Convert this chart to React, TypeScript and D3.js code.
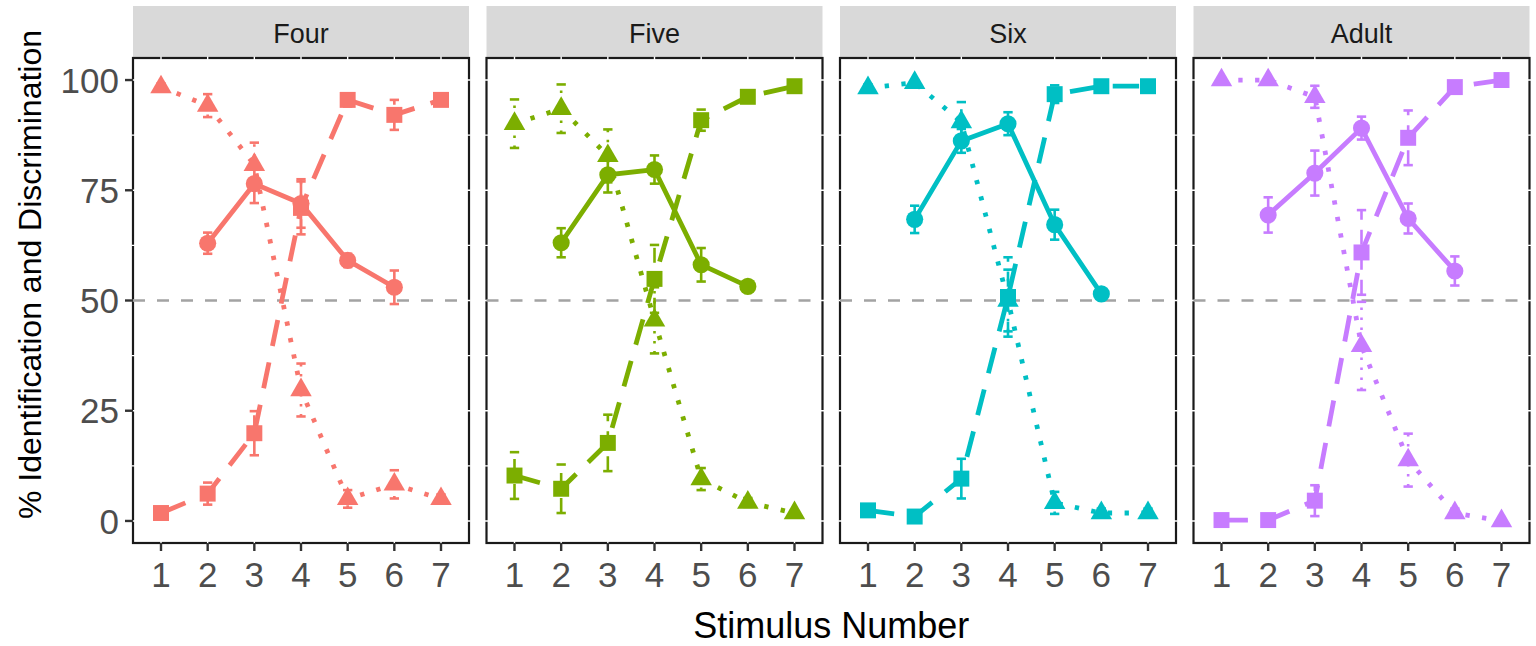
import * as d3 from 'd3'

// facets and stimulus steps
const panels = ['Four', 'Five', 'Six', 'Adult']
const colors = ['#F8766D', '#7CAE00', '#00BFC4', '#C77CFF']
const stimuli = [1, 2, 3, 4, 5, 6, 7]
const discStimuli = [2, 3, 4, 5, 6]
const yTicks = [0, 25, 50, 75, 100]

// discrimination (circles, solid)
const discMean = [
  [63.0, 76.5, 72.0, 59.1, 53.0],
  [63.1, 78.5, 79.7, 58.1, 53.2],
  [68.4, 86.2, 90.1, 67.2, 51.5],
  [69.4, 78.9, 89.1, 68.6, 56.7],
]
const discErr = [
  [2.4, 4.4, 5.5, 1.5, 3.8],
  [3.3, 4.0, 3.2, 3.8, 1.0],
  [3.1, 2.7, 2.6, 3.4, 0.8],
  [4.0, 5.1, 2.6, 3.4, 3.3],
]

// identification rising (squares, long dash)
const riseMean = [
  [1.8, 6.2, 19.9, 71.0, 95.5, 92.1, 95.5],
  [10.3, 7.3, 17.7, 54.9, 90.9, 96.2, 98.6],
  [2.4, 1.0, 9.6, 50.8, 96.8, 98.6, 98.6],
  [0.2, 0.2, 4.6, 60.9, 86.9, 98.4, 100],
]
const riseErr = [
  [0.8, 2.5, 5.0, 6.0, 1.5, 3.4, 1.0],
  [5.3, 5.5, 6.4, 7.7, 2.4, 1.0, 0.8],
  [1.0, 0.5, 4.5, 9.0, 2.0, 0.5, 0.5],
  [0, 0, 3.5, 9.6, 6.2, 0.8, 0.3],
]

// identification falling (triangles, dotted)
const fallMean = [
  [98.4, 94.2, 80.8, 29.7, 5.0, 8.3, 5.0],
  [90.1, 93.5, 82.8, 45.5, 9.5, 4.2, 1.8],
  [98.2, 99.4, 90.5, 50.0, 4.1, 1.8, 1.8],
  [100, 100, 96.2, 39.7, 13.8, 1.8, 0],
]
const fallErr = [
  [0.8, 2.6, 5.0, 6.0, 2.0, 3.2, 1.0],
  [5.5, 5.5, 6.0, 7.5, 2.5, 1.0, 0.5],
  [0.8, 0.5, 4.5, 7.0, 2.5, 1.0, 1.0],
  [0, 0, 2.5, 10, 6.0, 1.0, 0],
]

const font = "'Liberation Sans', Arial, sans-serif"
const W = 1536
const H = 646
const panelLeft = 133
const panelW = 336
const panelGap = 17.5
const top = 58
const bottom = 543
const stripTop = 6
const lw = 4.8

type Series = {
  xs: number[]
  mean: number[]
  err: number[]
  dash: string | undefined
  errDash: string | undefined
  shape: d3.SymbolType
  size: number
}

function Panel({ i }: { i: number }) {
  const left = panelLeft + i * (panelW + panelGap)
  const x = d3.scaleLinear().domain([0.4, 7.6]).range([left, left + panelW])
  const y = d3.scaleLinear().domain([-5, 105]).range([bottom, top])
  const color = colors[i]
  const line = d3.line<[number, number]>().x(d => x(d[0])).y(d => y(d[1]))

  const series: Series[] = [
    { xs: stimuli, mean: riseMean[i], err: riseErr[i], dash: `${lw * 5.5},${lw * 3.5}`, errDash: '15,10', shape: d3.symbolSquare, size: 255 },
    { xs: stimuli, mean: fallMean[i], err: fallErr[i], dash: `${lw * 0.9},${lw * 2.6}`, errDash: '2.5,7.5', shape: d3.symbolTriangle, size: 200 },
    { xs: discStimuli, mean: discMean[i], err: discErr[i], dash: undefined, errDash: undefined, shape: d3.symbolCircle, size: 230 },
  ]

  const minor = d3.range(0, 101, 12.5)

  return (
    <g>
      {/* strip */}
      <rect x={left} y={stripTop} width={panelW} height={top - stripTop - 1} fill="#d9d9d9" />
      <text x={left + panelW / 2} y={43} textAnchor="middle" fontSize={27} fill="#1a1a1a" fontFamily={font}>
        {panels[i]}
      </text>

      <rect x={left} y={top} width={panelW} height={bottom - top} fill="#fff" stroke="#1a1a1a" strokeWidth={2.2} />
      {/* white grid over border */}
      {minor.map(v => (
        <line key={'gy' + v} x1={left - 1.5} x2={left + panelW + 1.5} y1={y(v)} y2={y(v)} stroke="#fff" strokeWidth={1.4} />
      ))}
      {stimuli.map(s => (
        <line key={'gx' + s} x1={x(s)} x2={x(s)} y1={top - 1.5} y2={bottom + 1.5} stroke="#fff" strokeWidth={1.4} />
      ))}

      <line x1={left} x2={left + panelW} y1={y(50)} y2={y(50)} stroke="#a3a3a3" strokeWidth={2.6} strokeDasharray="12,12" />

      {series.map((s, k) => (
        <g key={'s' + k} fill="none" stroke={color}>
          <path d={line(s.xs.map((v, j) => [v, s.mean[j]] as [number, number])) || ''} strokeWidth={lw} strokeDasharray={s.dash} />
          {s.xs.map((v, j) => (
            <g key={j} strokeWidth={2.6}>
              <line x1={x(v)} x2={x(v)} y1={y(s.mean[j] - s.err[j])} y2={y(s.mean[j] + s.err[j])} strokeDasharray={s.errDash} />
              <line x1={x(v - 0.1)} x2={x(v + 0.1)} y1={y(s.mean[j] + s.err[j])} y2={y(s.mean[j] + s.err[j])} />
              <line x1={x(v - 0.1)} x2={x(v + 0.1)} y1={y(s.mean[j] - s.err[j])} y2={y(s.mean[j] - s.err[j])} />
            </g>
          ))}
        </g>
      ))}
      {series.map((s, k) => (
        <g key={'p' + k} fill={color}>
          {s.xs.map((v, j) => (
            <path key={j} transform={`translate(${x(v)},${y(s.mean[j])})`} d={d3.symbol(s.shape, s.size)() || ''} />
          ))}
        </g>
      ))}

      {/* x axis */}
      {stimuli.map(s => (
        <g key={'xt' + s}>
          <line x1={x(s)} x2={x(s)} y1={bottom} y2={bottom + 8} stroke="#333" strokeWidth={2.4} />
          <text x={x(s)} y={587} textAnchor="middle" fontSize={35} fill="#4d4d4d" fontFamily={font}>
            {s}
          </text>
        </g>
      ))}

      {i === 0 &&
        yTicks.map(t => (
          <g key={'yt' + t}>
            <line x1={left - 8} x2={left} y1={y(t)} y2={y(t)} stroke="#333" strokeWidth={2.4} />
            <text x={left - 14} y={y(t)} dy="0.36em" textAnchor="end" fontSize={35} fill="#4d4d4d" fontFamily={font}>
              {t}
            </text>
          </g>
        ))}
    </g>
  )
}

export default function App() {
  const centerX = panelLeft + (4 * panelW + 3 * panelGap) / 2
  return (
    <svg width={W} height={H} style={{ position: 'absolute', left: 0, top: 0, background: '#fff' }}>
      <rect width={W} height={H} fill="#fff" />
      {panels.map((_, i) => (
        <Panel key={i} i={i} />
      ))}
      <text x={centerX} y={638} textAnchor="middle" fontSize={36} fill="#000" fontFamily={font}>
        Stimulus Number
      </text>
      <text
        transform={`translate(41,${(stripTop + bottom) / 2}) rotate(-90)`}
        textAnchor="middle"
        fontSize={32}
        fill="#000"
        fontFamily={font}
      >
        % Identification and Discrimination
      </text>
    </svg>
  )
}
